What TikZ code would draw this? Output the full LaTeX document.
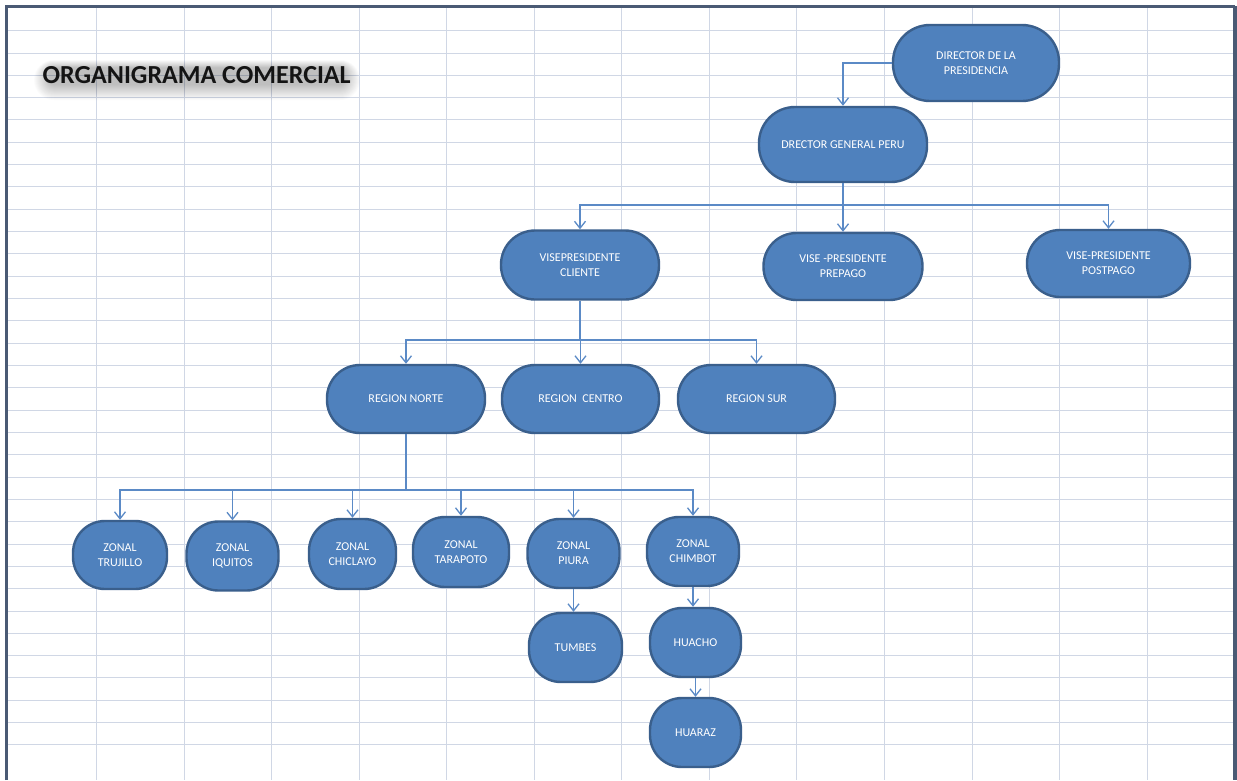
\documentclass[tikz,border=0pt]{standalone}
\usepackage{fontspec}
\setmainfont{Carlito}
\usetikzlibrary{arrows.meta}
\definecolor{gridc}{HTML}{D0D7E5}
\definecolor{framec}{HTML}{4A5A74}
\definecolor{boxfill}{HTML}{4F81BD}
\definecolor{boxline}{HTML}{3A5F8C}
\definecolor{linkc}{HTML}{5B8AC6}
\begin{document}
\begin{tikzpicture}[x=1pt,y=-1pt,
  gridline/.style={draw=gridc, line width=1pt},
  orgbox/.style={draw=boxline, fill=boxfill, line width=2.4pt, text=white,
    align=center, font=\fontsize{12}{15}\selectfont, inner sep=0pt,
    rounded corners=#1},
  orgbox/.default=33pt,
  bus/.style={draw=linkc, line width=1.3pt},
  conn/.style={bus, -{Straight Barb[length=7pt,width=11pt]}},
  titletext/.style={anchor=base west, font=\fontsize{26}{30}\selectfont\bfseries}
]
\useasboundingbox (0,0) rectangle (1237,780);
\fill[white] (0,0) rectangle (1237,780);

% spreadsheet grid, snapped to whole pixels
\foreach \k in {0,...,32}
  \draw[gridline] (8,{floor(30.7+22.32*\k)+0.5}) -- (1233,{floor(30.7+22.32*\k)+0.5});
\foreach \k in {0,...,12}
  \draw[gridline] ({floor(96.5+87.55*\k)+0.5},8) -- ({floor(96.5+87.55*\k)+0.5},780);

% sheet frame
\draw[framec, line width=3pt] (6.5,780) -- (6.5,6.2) -- (1234.8,6.2);
\draw[framec, line width=4pt] (1234.8,6.2) -- (1234.8,780);

% soft haze behind the title
\foreach \r in {1,...,16}
  \fill[black, opacity=0.016, rounded corners={4pt+\r*1pt}]
    ({50-\r*1.0},{68-\r*0.5}) rectangle ({344+\r*1.0},{84+\r*1.0});

% title
\node[titletext, text=black!92] (title) at (39,83) {ORGANIGRAMA COMERCIAL};

% boxes
\node[orgbox=37pt, minimum width=166pt, minimum height=76pt] (dp) at (976,63) {DIRECTOR DE LA\\PRESIDENCIA};
\node[orgbox=36pt, minimum width=168pt, minimum height=75pt] (dg) at (843,144.5) {DRECTOR GENERAL PERU};

\node[orgbox=34pt, minimum width=158pt, minimum height=69pt] (vp1) at (580,265) {VISEPRESIDENTE\\CLIENTE};
\node[orgbox=33pt, minimum width=159pt, minimum height=67pt] (vp2) at (843,266.5) {VISE -PRESIDENTE\\PREPAGO};
\node[orgbox=33pt, minimum width=163pt, minimum height=67pt] (vp3) at (1108.5,263.5) {VISE-PRESIDENTE\\POSTPAGO};

\node[orgbox=33pt, minimum width=158pt, minimum height=68pt] (rn) at (406,399) {REGION NORTE};
\node[orgbox=33pt, minimum width=157pt, minimum height=68pt] (rc) at (580.5,399) {REGION\ \ CENTRO};
\node[orgbox=33pt, minimum width=157pt, minimum height=68pt] (rs) at (756.5,399) {REGION SUR};

\node[orgbox=32pt, minimum width=94pt, minimum height=68pt] (z1) at (120,555) {ZONAL\\TRUJILLO};
\node[orgbox=32pt, minimum width=92pt, minimum height=69pt] (z2) at (232.5,556) {ZONAL\\IQUITOS};
\node[orgbox=32pt, minimum width=87pt, minimum height=70pt] (z3) at (352.5,554) {ZONAL\\CHICLAYO};
\node[orgbox=32pt, minimum width=96pt, minimum height=70pt] (z4) at (461,552) {ZONAL\\TARAPOTO};
\node[orgbox=32pt, minimum width=92pt, minimum height=69pt] (z5) at (573.5,553.5) {ZONAL\\PIURA};
\node[orgbox=32pt, minimum width=92pt, minimum height=69pt] (z6) at (693,551.5) {ZONAL\\CHIMBOT};

\node[orgbox=32pt, minimum width=93pt, minimum height=69pt] (tumbes) at (575.5,647.5) {TUMBES};
\node[orgbox=32pt, minimum width=91pt, minimum height=69pt] (huacho) at (695.5,642.5) {HUACHO};
\node[orgbox=32pt, minimum width=91pt, minimum height=69pt] (huaraz) at (695.5,732.5) {HUARAZ};

% junctions of the branch lines
\coordinate (j1) at (843,205);
\coordinate (j2) at (580,340);
\coordinate (j3) at (406,490);

% connectors
\draw[conn] (dp.west) -| (dg.north);

\draw[conn] (dg.south) -- (vp2.north);
\draw[conn] (j1) -| (vp1.north);
\draw[conn] (j1) -| (vp3.north);

\draw[bus] (vp1.south) -- (j2);
\draw[conn] (j2) -| (rn.north);
\draw[conn] (j2) -| (rc.north);
\draw[conn] (j2) -| (rs.north);

\draw[bus] (rn.south) -- (j3);
\foreach \z in {z1,z2,z3,z4,z5,z6}
  \draw[conn] (j3) -| (\z.north);

\draw[conn] (z5.south) -- (z5.south |- tumbes.north);
\draw[conn] (z6.south) -- (z6.south |- huacho.north);
\draw[conn] (huacho.south) -- (huacho.south |- huaraz.north);
\end{tikzpicture}
\end{document}
